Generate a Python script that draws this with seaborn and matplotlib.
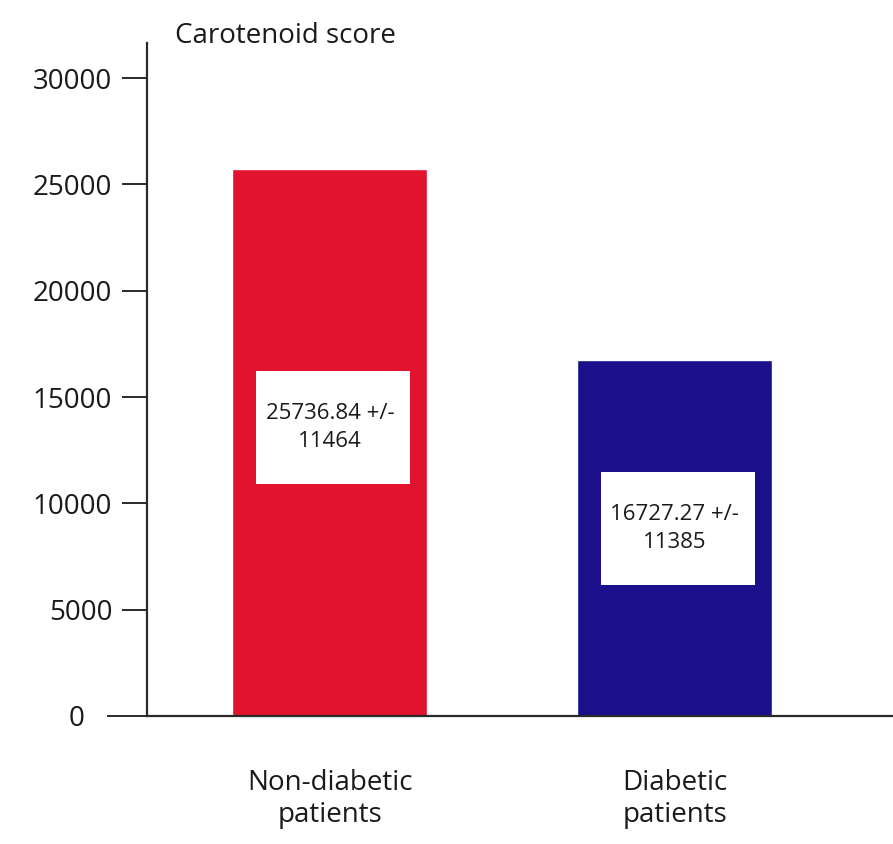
import seaborn as sns
import pandas as pd
import matplotlib.pyplot as plt
from matplotlib.patches import Rectangle

groups = ["Non-diabetic\npatients", "Diabetic\npatients"]
means = [25736.84, 16727.27]
sds = [11464, 11385]
bar_colors = ["#e3122e", "#1b0f8c"]
y_ticks = [0, 5000, 10000, 15000, 20000, 25000, 30000]

df = pd.DataFrame({"group": groups, "score": means})

sns.set_style("white")
plt.rcParams["font.family"] = ["Open Sans", "DejaVu Sans"]
plt.rcParams["text.color"] = "#1a1a1a"

fig = plt.figure(figsize=(8.93, 8.44), dpi=100)
ax = fig.add_axes([0.1646, 0.1517, 0.8354, 0.7973])

sns.barplot(data=df, x="group", y="score", hue="group", palette=bar_colors,
            width=0.565, legend=False, ax=ax, saturation=1)

ax.set_xlim(-0.53, 1.632)
ax.set_ylim(0, 31650)
ax.set_yticks(y_ticks)
ax.set_yticklabels([str(t) for t in y_ticks])
ax.set_xlabel("")
ax.set_ylabel("")

sns.despine(ax=ax, top=True, right=True)
for side in ("left", "bottom"):
    ax.spines[side].set_linewidth(1.6)
    ax.spines[side].set_color("#2a2a2a")

ax.tick_params(axis="y", left=True, direction="out", length=18, width=1.4,
               color="#2a2a2a", pad=7, labelsize=20, labelcolor="#1a1a1a")
ax.tick_params(axis="x", bottom=False, length=0, pad=38, labelsize=20,
               labelcolor="#1a1a1a")

# zero tick drawn longer, like the baseline running past the axis
yt = ax.yaxis.get_major_ticks()
yt[0]._apply_params(size=29, pad=16)

ax.text(0.0375, 1.0, "Carotenoid score", transform=ax.transAxes,
        fontsize=20, va="baseline", ha="left")

# white value boxes inside bars
for bar, m, s in zip(ax.patches, means, sds):
    x0, w, h = bar.get_x(), bar.get_width(), bar.get_height()
    bh = 5300
    yc = h * 0.527
    ax.add_patch(Rectangle((x0 + 0.12 * w, yc - bh / 2), 0.79 * w, bh,
                           facecolor="white", edgecolor="none", zorder=3))
    ax.text(x0 + w / 2, yc, f"{m:.2f} +/-\n{s}", ha="center", va="center",
            fontsize=16, linespacing=1.4, zorder=4, multialignment="center")

fig.savefig("out.png", dpi=100)
